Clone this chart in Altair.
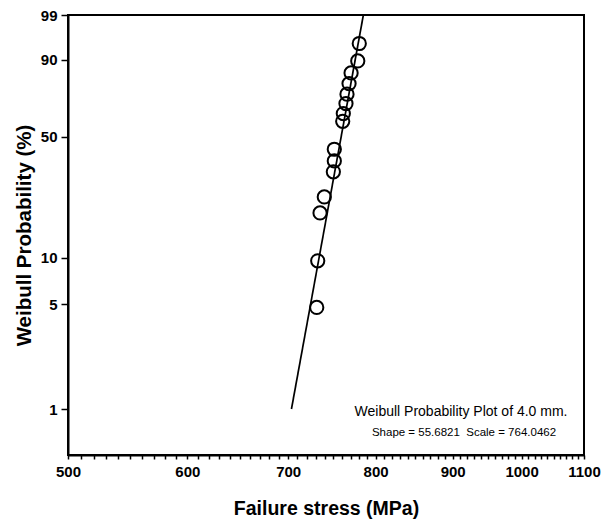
import math
import altair as alt
import pandas as pd

# ---- data ----
stress = [731.2, 732.3, 734.9, 739.7, 750.0, 751.1, 751.1, 760.8, 761.5, 764.6,
          765.8, 768.2, 770.6, 778.5, 780.3]
prob = [4.76, 9.58, 19.1, 23.8, 33.1, 37.9, 43.5, 58.6, 63.0, 68.7,
        73.9, 79.5, 84.6, 89.5, 94.8]

# fitted Weibull line end points (1 % and 99 %)
line_stress = [703.5, 785.2]
line_prob = [1, 99]

y_tick_probs = [1, 5, 10, 50, 90, 99]
x_major_ticks = [500, 600, 700, 800, 900, 1000, 1100]
x_minor_step = 10

annot_title = "Weibull Probability Plot of 4.0 mm."
annot_params = "Shape = 55.6821\u00a0\u00a0Scale = 764.0462"


def wtrans(p):
    return math.log(-math.log(1 - p / 100.0))


y_top = wtrans(99)
y_bottom = wtrans(1) - 0.715
y_tick_vals = [wtrans(p) for p in y_tick_probs]
x_tick_vals = list(range(x_major_ticks[0], x_major_ticks[-1] + 1, x_minor_step))

pts = pd.DataFrame({"stress": stress, "prob": prob})
fit = pd.DataFrame({"stress": line_stress, "prob": line_prob})

FONT = "Liberation Sans"

x_enc = alt.X(
    "stress:Q",
    scale=alt.Scale(type="log", domain=[500, 1100], nice=False),
    axis=alt.Axis(
        values=x_tick_vals,
        labelExpr="datum.value % 100 == 0 ? format(datum.value, 'd') : ''",
        labelOverlap=False,
        labelFlush=False,
        tickSize=4,
        labelPadding=5,
        titlePadding=20,
    ),
    title="Failure stress (MPa)",
)
y_enc = alt.Y(
    "w:Q",
    scale=alt.Scale(domain=[y_bottom, y_top], nice=False, zero=False),
    axis=alt.Axis(
        values=y_tick_vals,
        labelExpr="format((1 - exp(-exp(datum.value))) * 100, '.0f')",
        labelOverlap=False,
        labelFlush=False,
        tickSize=7,
        labelPadding=4,
        titlePadding=6,
        titleFontSize=20.5,
    ),
    title="Weibull Probability (%)",
)

line = (
    alt.Chart(fit)
    .transform_calculate(w="log(-log(1 - datum.prob / 100))")
    .mark_line(color="black", strokeWidth=1.7)
    .encode(x=x_enc, y=y_enc)
)
points = (
    alt.Chart(pts)
    .transform_calculate(w="log(-log(1 - datum.prob / 100))")
    .mark_point(shape="circle", filled=False, size=175, strokeWidth=2, color="black", opacity=1)
    .encode(x=x_enc, y=y_enc)
)

txt_df = pd.DataFrame({"a": [0]})
t1 = alt.Chart(txt_df).mark_text(
    font=FONT, fontSize=14, color="black", align="center", baseline="middle"
).encode(x=alt.value(393), y=alt.value(397), text=alt.value(annot_title))
t2 = alt.Chart(txt_df).mark_text(
    font=FONT, fontSize=11.5, color="black", align="center", baseline="middle"
).encode(x=alt.value(396), y=alt.value(418), text=alt.value(annot_params))

chart = (
    alt.layer(line, points, t1, t2)
    .properties(
        width=516,
        height=440,
        autosize=alt.AutoSizeParams(type="none"),
        padding={"left": 68, "top": 15, "right": 19, "bottom": 71},
        background="white",
    )
    .configure_view(stroke="black", strokeWidth=2)
    .configure_axis(
        grid=False,
        domainColor="black",
        domainWidth=2,
        tickColor="black",
        tickWidth=1.5,
        labelColor="black",
        titleColor="black",
        labelFont=FONT,
        labelFontSize=15,
        labelFontWeight="bold",
        titleFont=FONT,
        titleFontSize=19.5,
        titleFontWeight="bold",
    )
)

chart.save("out.html", embed_options={"renderer": "svg", "actions": False})
